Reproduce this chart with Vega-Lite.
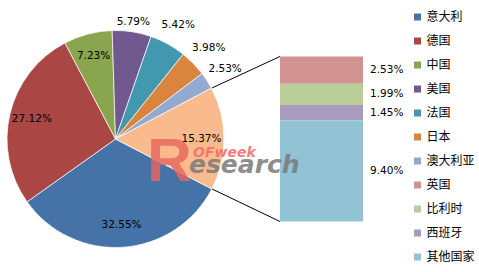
{
  "$schema": "https://vega.github.io/schema/vega-lite/v6.json",
  "width": 479,
  "height": 272,
  "padding": 0,
  "autosize": {"type": "none"},
  "background": "white",
  "config": {
    "view": {"stroke": null},
    "axis": {"disable": true},
    "font": "DejaVu Sans",
    "legend": {
      "orient": "none",
      "legendX": 411.5,
      "legendY": 11,
      "padding": 0,
      "symbolType": "square",
      "symbolSize": 49,
      "symbolStrokeWidth": 0,
      "labelFont": "Noto Sans CJK SC",
      "labelFontSize": 12,
      "labelColor": "#000000",
      "labelOffset": 3,
      "rowPadding": 12,
      "title": null
    }
  },
  "datasets": {
    "pie": [
      {"name": "意大利", "value": 32.55, "label": "32.55%", "idx": 1},
      {"name": "德国", "value": 27.12, "label": "27.12%", "idx": 2},
      {"name": "中国", "value": 7.23, "label": "7.23%", "idx": 3},
      {"name": "美国", "value": 5.79, "label": "5.79%", "idx": 4},
      {"name": "法国", "value": 5.42, "label": "5.42%", "idx": 5},
      {"name": "日本", "value": 3.98, "label": "3.98%", "idx": 6},
      {"name": "澳大利亚", "value": 2.53, "label": "2.53%", "idx": 7},
      {"name": "其他", "value": 15.37, "label": "15.37%", "idx": 8}
    ],
    "bar": [
      {"name": "英国", "value": 2.53, "label": "2.53%", "idx": 8},
      {"name": "比利时", "value": 1.99, "label": "1.99%", "idx": 9},
      {"name": "西班牙", "value": 1.45, "label": "1.45%", "idx": 10},
      {"name": "其他国家", "value": 9.40, "label": "9.40%", "idx": 11}
    ]
  },
  "layer": [
    {
      "data": {"name": "pie"},
      "mark": {"type": "arc", "outerRadius": 108.5, "stroke": "#ffffff", "strokeWidth": 0.7},
      "encoding": {
        "x": {"datum": -1.9819, "type": "quantitative", "scale": {"domain": [-3.3735, 2.3976], "nice": false, "zero": false}},
        "y": {"datum": 7.685, "type": "quantitative", "scale": {"domain": [-4.704, 20.633], "nice": false, "zero": false}},
        "theta": {"field": "value", "type": "quantitative", "stack": true, "scale": {"range": [2.049, 8.332]}},
        "order": {"field": "idx", "type": "quantitative", "sort": "ascending"},
        "color": {
          "field": "name", "type": "nominal",
          "scale": {
            "domain": ["意大利", "德国", "中国", "美国", "法国", "日本", "澳大利亚", "英国", "比利时", "西班牙", "其他国家", "其他"],
            "range": ["#4572A7", "#AA4643", "#89A54E", "#71588F", "#4198AF", "#DB843D", "#93A9CF", "#D19392", "#B9CD96", "#A99BBD", "#91C3D5", "#F9BA8E"]
          },
          "legend": {"values": ["意大利", "德国", "中国", "美国", "法国", "日本", "澳大利亚", "英国", "比利时", "西班牙", "其他国家"]}
        }
      }
    },
    {
      "data": {"name": "pie"},
      "mark": {"type": "text", "radius": 86, "fontSize": 10.5, "fill": "#000000", "align": "center", "baseline": "middle"},
      "encoding": {
        "x": {"datum": -1.9819, "type": "quantitative"},
        "y": {"datum": 7.685, "type": "quantitative"},
        "theta": {"field": "value", "type": "quantitative", "stack": true},
        "order": {"field": "idx", "type": "quantitative", "sort": "ascending"},
        "text": {"condition": {"test": "datum.value > 7", "field": "label"}, "value": ""}
      }
    },
    {
      "data": {"name": "pie"},
      "mark": {"type": "text", "radius": 118, "fontSize": 10.5, "fill": "#000000", "align": "center", "baseline": "middle"},
      "encoding": {
        "x": {"datum": -1.9819, "type": "quantitative"},
        "y": {"datum": 7.685, "type": "quantitative"},
        "theta": {"field": "value", "type": "quantitative", "stack": true},
        "order": {"field": "idx", "type": "quantitative", "sort": "ascending"},
        "text": {"condition": {"test": "datum.name === '美国'", "field": "label"}, "value": ""}
      }
    },
    {
      "data": {"name": "pie"},
      "mark": {"type": "text", "radius": 130, "fontSize": 10.5, "fill": "#000000", "align": "center", "baseline": "middle"},
      "encoding": {
        "x": {"datum": -1.9819, "type": "quantitative"},
        "y": {"datum": 7.685, "type": "quantitative"},
        "theta": {"field": "value", "type": "quantitative", "stack": true},
        "order": {"field": "idx", "type": "quantitative", "sort": "ascending"},
        "text": {"condition": {"test": "indexof(['法国','日本','澳大利亚'], datum.name) >= 0", "field": "label"}, "value": ""}
      }
    },
    {
      "data": {"name": "bar"},
      "transform": [
        {"stack": "value", "groupby": [], "sort": [{"field": "idx", "order": "descending"}], "as": ["v0", "v1"]}
      ],
      "mark": {"type": "bar"},
      "encoding": {
        "x": {"datum": 0, "type": "quantitative"},
        "x2": {"datum": 1},
        "y": {"field": "v0", "type": "quantitative"},
        "y2": {"field": "v1"},
        "color": {"field": "name", "type": "nominal"}
      }
    },
    {
      "data": {"name": "bar"},
      "mark": {"type": "text", "align": "left", "baseline": "middle", "dx": 7, "fontSize": 10.5, "fill": "#000000"},
      "encoding": {
        "x": {"datum": 1, "type": "quantitative"},
        "y": {"field": "value", "type": "quantitative", "stack": "zero", "bandPosition": 0.5},
        "order": {"field": "idx", "type": "quantitative", "sort": "descending"},
        "text": {"field": "label"}
      }
    },
    {
      "data": {"values": [{}]},
      "mark": {"type": "rule", "color": "#000000", "strokeWidth": 1},
      "encoding": {
        "x": {"datum": -0.819, "type": "quantitative"},
        "y": {"datum": 12.44, "type": "quantitative"},
        "x2": {"datum": 0},
        "y2": {"datum": 15.37}
      }
    },
    {
      "data": {"values": [{}]},
      "mark": {"type": "rule", "color": "#000000", "strokeWidth": 1},
      "encoding": {
        "x": {"datum": -0.819, "type": "quantitative"},
        "y": {"datum": 3.03, "type": "quantitative"},
        "x2": {"datum": 0},
        "y2": {"datum": 0}
      }
    },
    {
      "data": {"values": [{}]},
      "mark": {"type": "text", "text": "R", "font": "Liberation Sans", "fontWeight": "bold", "fontSize": 62, "fill": "#EA665C", "opacity": 0.8, "align": "left", "baseline": "alphabetic"},
      "encoding": {
        "x": {"datum": -1.602, "type": "quantitative"},
        "y": {"datum": 3.77, "type": "quantitative"}
      }
    },
    {
      "data": {"values": [{}]},
      "mark": {"type": "text", "text": "OFweek", "font": "DejaVu Sans", "fontWeight": "bold", "fontStyle": "italic", "fontSize": 14, "fill": "#F07070", "opacity": 0.9, "align": "left", "baseline": "alphabetic"},
      "encoding": {
        "x": {"datum": -1.048, "type": "quantitative"},
        "y": {"datum": 6.01, "type": "quantitative"}
      }
    },
    {
      "data": {"values": [{}]},
      "mark": {"type": "text", "text": "esearch", "font": "DejaVu Sans", "fontWeight": "bold", "fontStyle": "italic", "fontSize": 25, "fill": "#7A7A7A", "opacity": 0.85, "align": "left", "baseline": "alphabetic"},
      "encoding": {
        "x": {"datum": -1.096, "type": "quantitative"},
        "y": {"datum": 4.52, "type": "quantitative"}
      }
    }
  ]
}
